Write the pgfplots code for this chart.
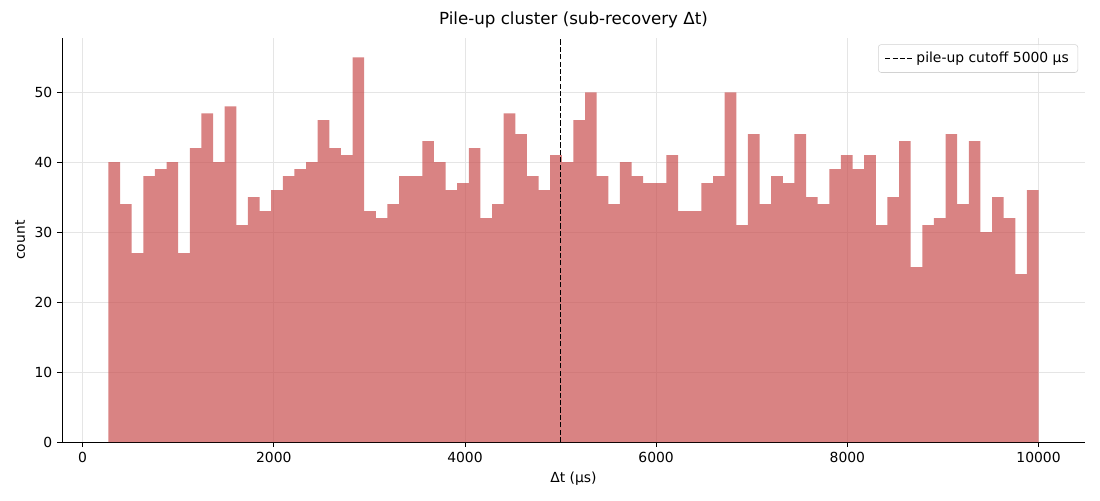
\documentclass[border=0pt]{standalone}
\usepackage{pgfplots}
\pgfplotsset{compat=1.18}
\usepackage{fontspec}
\setmainfont{DejaVu Sans}
\definecolor{barc}{RGB}{201,79,79}
\begin{document}
\begin{tikzpicture}
\useasboundingbox (-44.6pt,-41.8pt) rectangle (747.4pt,318.3pt);
\begin{axis}[
  at={(0,0)}, anchor=south west,
  width=736.6pt, height=290.9pt, scale only axis,
  xmin=-216, xmax=10486, ymin=0, ymax=57.75,
  axis lines*=left, axis line style={-, line width=0.58pt},
  xtick={0,2000,4000,6000,8000,10000},
  ytick={0,10,20,30,40,50},
  tick align=outside, major tick length=3.5pt,
  tick style={black, line width=0.58pt},
  grid=major, major grid style={line width=0.58pt, gray!20},
  scaled ticks=false,
  /pgf/number format/1000 sep={},
  /pgf/number format/assume math mode=true,
  ticklabel style={font=\fontsize{10}{12}\selectfont},
  title={Pile-up cluster (sub-recovery Δt)},
  title style={font=\fontsize{12}{14}\selectfont, yshift=-2.5pt},
  xlabel={Δt (μs)}, ylabel={count},
  label style={font=\fontsize{10}{12}\selectfont},
  legend style={at={(1,1)}, anchor=north east, xshift=-5pt, yshift=-4.5pt,
    draw=gray!35, rounded corners=2pt, fill=white, fill opacity=0.8, text opacity=1,
    font=\fontsize{10}{12}\selectfont, inner xsep=4.5pt, inner ysep=3.5pt,
    /tikz/every even column/.append style={column sep=6pt}},
  legend image code/.code={\draw[#1] (0pt,0pt) -- (20pt,0pt);},
  legend cell align=left,
]
\addplot[ybar interval, fill=barc, fill opacity=0.7, draw=none, forget plot] table[x=e, y=c] {
e c
270 40
391.625 34
513.25 27
634.875 38
756.5 39
878.125 40
999.75 27
1121.375 42
1243 47
1364.625 40
1486.25 48
1607.875 31
1729.5 35
1851.125 33
1972.75 36
2094.375 38
2216 39
2337.625 40
2459.25 46
2580.875 42
2702.5 41
2824.125 55
2945.75 33
3067.375 32
3189 34
3310.625 38
3432.25 38
3553.875 43
3675.5 40
3797.125 36
3918.75 37
4040.375 42
4162 32
4283.625 34
4405.25 47
4526.875 44
4648.5 38
4770.125 36
4891.75 41
5013.375 40
5135 46
5256.625 50
5378.25 38
5499.875 34
5621.5 40
5743.125 38
5864.75 37
5986.375 37
6108 41
6229.625 33
6351.25 33
6472.875 37
6594.5 38
6716.125 50
6837.75 31
6959.375 44
7081 34
7202.625 38
7324.25 37
7445.875 44
7567.5 35
7689.125 34
7810.75 39
7932.375 41
8054 39
8175.625 41
8297.25 31
8418.875 35
8540.5 43
8662.125 25
8783.75 31
8905.375 32
9027 44
9148.625 34
9270.25 43
9391.875 30
9513.5 35
9635.125 32
9756.75 24
9878.375 36
10000 36
};
\addplot[black, line width=0.9pt, dash pattern=on 3.7pt off 1.6pt] coordinates {(5000,0) (5000,57.75)};
\addlegendentry{pile-up cutoff 5000 μs}
\end{axis}
\end{tikzpicture}
\end{document}
